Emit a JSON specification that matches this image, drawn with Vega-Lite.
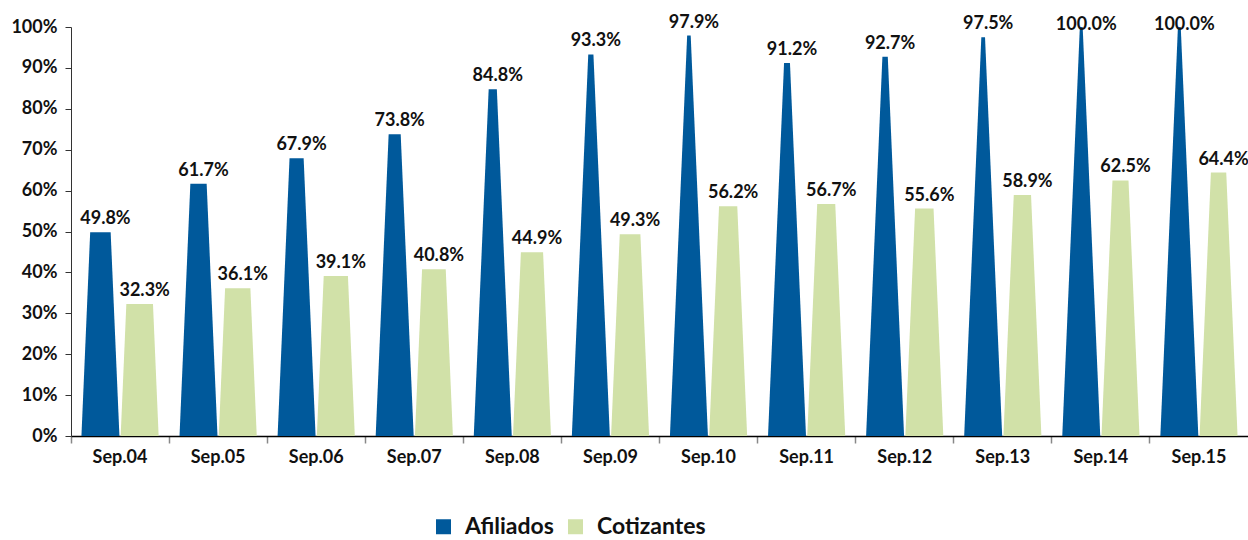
{
  "$schema": "https://vega.github.io/schema/vega-lite/v6.json",
  "autosize": {"type": "none"},
  "width": 1177,
  "height": 409,
  "padding": {"left": 71, "top": 27, "right": 0, "bottom": 104},
  "background": "white",
  "config": {
    "view": {"stroke": null},
    "font": "Lato",
    "axis": {"labelFont": "Lato", "labelFontWeight": "bold", "labelColor": "#111111"},
    "legend": {"labelFont": "Lato"}
  },
  "data": {
    "values": [
      {"period": "Sep.04", "serie": "Afiliados", "value": 0.498},
      {"period": "Sep.05", "serie": "Afiliados", "value": 0.617},
      {"period": "Sep.06", "serie": "Afiliados", "value": 0.679},
      {"period": "Sep.07", "serie": "Afiliados", "value": 0.738},
      {"period": "Sep.08", "serie": "Afiliados", "value": 0.848},
      {"period": "Sep.09", "serie": "Afiliados", "value": 0.933},
      {"period": "Sep.10", "serie": "Afiliados", "value": 0.979},
      {"period": "Sep.11", "serie": "Afiliados", "value": 0.912},
      {"period": "Sep.12", "serie": "Afiliados", "value": 0.927},
      {"period": "Sep.13", "serie": "Afiliados", "value": 0.975},
      {"period": "Sep.14", "serie": "Afiliados", "value": 1.0},
      {"period": "Sep.15", "serie": "Afiliados", "value": 1.0},
      {"period": "Sep.04", "serie": "Cotizantes", "value": 0.323},
      {"period": "Sep.05", "serie": "Cotizantes", "value": 0.361},
      {"period": "Sep.06", "serie": "Cotizantes", "value": 0.391},
      {"period": "Sep.07", "serie": "Cotizantes", "value": 0.408},
      {"period": "Sep.08", "serie": "Cotizantes", "value": 0.449},
      {"period": "Sep.09", "serie": "Cotizantes", "value": 0.493},
      {"period": "Sep.10", "serie": "Cotizantes", "value": 0.562},
      {"period": "Sep.11", "serie": "Cotizantes", "value": 0.567},
      {"period": "Sep.12", "serie": "Cotizantes", "value": 0.556},
      {"period": "Sep.13", "serie": "Cotizantes", "value": 0.589},
      {"period": "Sep.14", "serie": "Cotizantes", "value": 0.625},
      {"period": "Sep.15", "serie": "Cotizantes", "value": 0.644}
    ]
  },
  "encoding": {
    "x": {
      "field": "period",
      "type": "nominal",
      "sort": null,
      "scale": {"paddingInner": 0, "paddingOuter": 0},
      "axis": {
        "title": null,
        "labelAngle": 0,
        "labelFontSize": 18,
        "labelPadding": 5,
        "domainColor": "#000000",
        "domainWidth": 1.5,
        "tickColor": "#888888",
        "tickWidth": 1.5,
        "tickSize": 7,
        "bandPosition": 0
      }
    },
    "xOffset": {
      "field": "serie",
      "type": "nominal",
      "scale": {"paddingInner": 0, "paddingOuter": 0.25}
    }
  },
  "layer": [
    {
      "mark": {
        "type": "point",
        "filled": true,
        "opacity": 1,
        "strokeWidth": 0,
        "clip": true,
        "shape": "M -0.086 0 L 0 -2 L 0.086 0 Z",
        "size": 195112
      },
      "encoding": {
        "y": {
          "datum": 0,
          "type": "quantitative",
          "scale": {"domain": [0, 1], "nice": false},
          "axis": {
            "title": null,
            "format": ".0%",
            "values": [0, 0.1, 0.2, 0.3, 0.4, 0.5, 0.6, 0.7, 0.8, 0.9, 1],
            "labelFontSize": 18,
            "labelPadding": 8,
            "domainColor": "#333333",
            "tickColor": "#333333",
            "tickSize": 6,
            "grid": false
          }
        },
        "color": {
          "field": "serie",
          "type": "nominal",
          "scale": {"domain": ["Afiliados", "Cotizantes"], "range": ["#00599B", "#D1E1A8"]},
          "legend": {
            "title": null,
            "orient": "none",
            "direction": "horizontal",
            "legendX": 361,
            "legendY": 488,
            "symbolType": "square",
            "symbolSize": 225,
            "symbolStrokeWidth": 0,
            "labelFontSize": 23,
            "labelFontWeight": "bold",
            "labelColor": "#111111",
            "labelOffset": 10,
            "columnPadding": 10
          }
        }
      }
    },
    {
      "mark": {"type": "bar", "color": "white"},
      "encoding": {
        "y": {"field": "value", "type": "quantitative"},
        "y2": {"datum": 1}
      }
    },
    {
      "mark": {
        "type": "text",
        "font": "Lato",
        "fontWeight": "bold",
        "fontSize": 18,
        "color": "#111111",
        "baseline": "alphabetic",
        "dy": {"expr": "datum.value >= 0.999 ? 3 : -8"},
        "dx": 5
      },
      "encoding": {
        "y": {"field": "value", "type": "quantitative"},
        "text": {"field": "value", "type": "quantitative", "format": ".1%"}
      }
    }
  ]
}
